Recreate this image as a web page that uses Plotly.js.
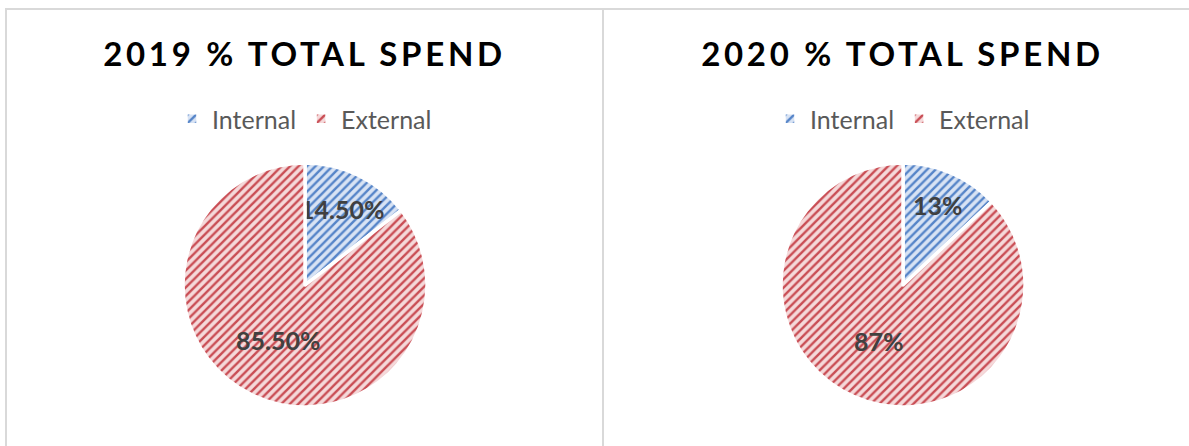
<!DOCTYPE html>
<html>
<head>
<meta charset="utf-8">
<script src="https://cdn.plot.ly/plotly-3.0.1.min.js"></script>
<style>
  html, body { margin:0; padding:0; background:#fff; overflow:hidden; width:1189px; height:446px; }
  .frame { position:absolute; box-sizing:border-box; border:0 solid #d9d9d9; }
  .plot { position:absolute; top:9px; width:597px; height:437px; }
  .gtitle { letter-spacing: 3.7px; }
</style>
</head>
<body>
<div class="frame" style="left:5px; top:8px; width:599px; height:460px; border-left-width:2px; border-top-width:2px; border-right-width:2px;"></div>
<div class="frame" style="left:602px; top:8px; width:700px; height:460px; border-top-width:2px;"></div>
<div id="c2019" class="plot" style="left:6px;"></div>
<div id="c2020" class="plot" style="left:604px;"></div>
<script>
const labels = ['Internal', 'External'];
const values2019 = [14.5, 85.5];
const values2020 = [13, 87];
const titles = ['2019 % TOTAL SPEND', '2020 % TOTAL SPEND'];
const labelFormats = ['%{value:.2f}%', '%{value:.0f}%'];

const bgColors = ['#d8e3f4', '#f5d9da'];
const fgColors = ['#5584c8', '#c94d54'];

function makeChart(id, values, title, fmt) {
  const trace = {
    type: 'pie',
    labels: labels,
    values: values,
    sort: false,
    direction: 'clockwise',
    rotation: 0,
    texttemplate: fmt,
    textposition: 'inside',
    insidetextorientation: 'horizontal',
    textfont: { family: 'Lato', size: 25, color: '#404040', weight: 'bold' },
    hoverinfo: 'none',
    marker: {
      colors: bgColors,
      line: { color: '#ffffff', width: 3.5 },
      pattern: { shape: '/', bgcolor: bgColors, fgcolor: fgColors, size: 6, solidity: 0.4, fillmode: 'replace' }
    },
    domain: { x: [0.2965, 0.7052], y: [0.0892, 0.6476] }
  };
  const layout = {
    width: 597, height: 437,
    margin: { l: 0, r: 0, t: 0, b: 0 },
    paper_bgcolor: 'rgba(0,0,0,0)',
    plot_bgcolor: 'rgba(0,0,0,0)',
    title: {
      text: title,
      x: 0.5, xanchor: 'center', xref: 'paper',
      y: 1 - 45 / 437, yanchor: 'middle', yref: 'container',
      font: { family: 'Lato', size: 33, color: '#000000', weight: 'bold' }
    },
    showlegend: true,
    legend: {
      orientation: 'h', x: 0.5, xanchor: 'center', y: 1 - 110 / 437, yanchor: 'middle',
      font: { family: 'Lato', size: 25, color: '#595959' },
      traceorder: 'normal'
    },
    uniformtext: { mode: 'show', minsize: 25 }
  };
  Plotly.newPlot(id, [trace], layout, { displayModeBar: false, staticPlot: true });
}

makeChart('c2019', values2019, titles[0], labelFormats[0]);
makeChart('c2020', values2020, titles[1], labelFormats[1]);
</script>
</body>
</html>
